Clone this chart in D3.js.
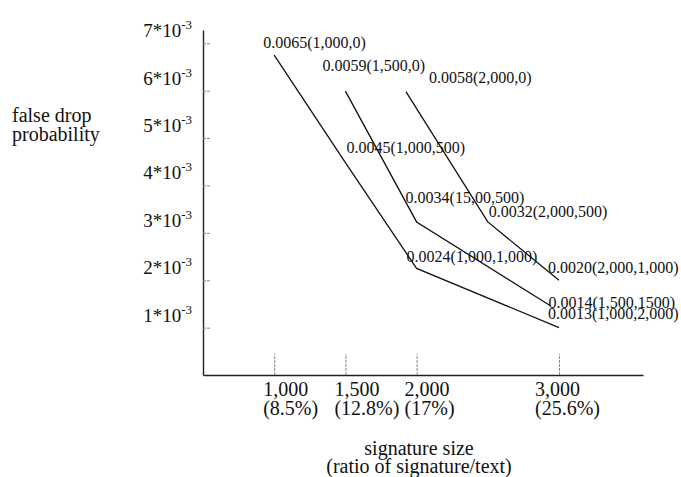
<!DOCTYPE html>
<html>
<head>
<meta charset="utf-8">
<script src="https://cdn.jsdelivr.net/npm/d3@7/dist/d3.min.js"></script>
<style>
  body { margin: 0; background: #fff; }
  svg { font-family: "Liberation Serif", "Times New Roman", serif; }
</style>
</head>
<body>
<svg id="chart"></svg>
<script>
// Axis ticks and labels
let sizeTicks = [1000, 1500, 2000, 3000];
let sizeLabels = ['1,000', '1,500', '2,000', '3,000'];
let ratioLabels = ['(8.5%)', '(12.8%)', '(17%)', '(25.6%)'];
let probTicks = [0.001, 0.002, 0.003, 0.004, 0.005, 0.006, 0.007];
let probLabels = ['1*10', '2*10', '3*10', '4*10', '5*10', '6*10', '7*10'];

// Series: signature size (x) and false drop probability (y)
let sizes1 = [1000, 1500, 2000, 3000];
let probs1 = [0.00675, 0.00448, 0.00225, 0.00100];
let labels1 = ['0.0065(1,000,0)', '0.0045(1,000,500)', '0.0024(1,000,1,000)', '0.0013(1,000,2,000)'];

let sizes2 = [1500, 2000, 2940];
let probs2 = [0.00599, 0.00323, 0.00146];
let labels2 = ['0.0059(1,500,0)', '0.0034(15,00,500)', '0.0014(1,500,1500)'];

let sizes3 = [1925, 2500, 3000];
let probs3 = [0.00598, 0.00323, 0.00200];
let labels3 = ['0.0058(2,000,0)', '0.0032(2,000,500)', '0.0020(2,000,1,000)'];

// Where each point label sits relative to its point (hand placed in the original)
let offsets1 = [[-11, -7], [1, -10], [-10, -6], [-11, -9]];
let offsets2 = [[-23, -20], [-11, -19], [-2, 2]];
let offsets3 = [[23, -9], [1, -5], [-11, -7]];
let xLabelShift = [-11, -11, -12, -24];

// SVG dimensions
let width = 681, height = 477;

let svg = d3.select('#chart')
    .attr('width', width)
    .attr('height', height);

let x = d3.scaleLinear().domain([500, 3590]).range([203, 643]);
let y = d3.scaleLinear().domain([0, 0.00728]).range([375, 30]);

// x axis, ticks pointing up
let xAxis = svg.append('g')
    .attr('transform', 'translate(0,' + y(0) + ')')
    .call(d3.axisBottom(x).tickValues(sizeTicks).tickSizeInner(-21).tickSizeOuter(0).tickFormat(''));

// y axis, short ticks pointing right
let yAxis = svg.append('g')
    .attr('transform', 'translate(' + x(500) + ',0)')
    .call(d3.axisLeft(y).tickValues(probTicks).tickSizeInner(-7).tickSizeOuter(0).tickFormat(''));

svg.selectAll('.domain').attr('stroke', '#222').attr('stroke-width', 1.4);
svg.selectAll('.tick line').attr('stroke', '#888').attr('stroke-dasharray', '3,1');

// y tick labels with superscript exponent
probTicks.forEach((v, i) => {
    let t = svg.append('text')
        .attr('x', x(500) - 11)
        .attr('y', y(v) - 6)
        .attr('text-anchor', 'end')
        .attr('font-size', 19)
        .attr('fill', '#111');
    t.append('tspan').text(probLabels[i]);
    t.append('tspan').attr('font-size', 13).attr('dy', -8).text('-3');
});

// x tick labels, two lines each
sizeTicks.forEach((v, i) => {
    let t = svg.append('text')
        .attr('x', x(v) + xLabelShift[i])
        .attr('y', 396)
        .attr('font-size', 20)
        .attr('fill', '#111');
    t.append('tspan').text(sizeLabels[i]);
    t.append('tspan').attr('x', x(v) + xLabelShift[i]).attr('dy', 19).text(ratioLabels[i]);
});

// axis titles
svg.append('text')
    .attr('x', 12).attr('y', 122)
    .attr('font-size', 20).attr('fill', '#111')
    .call(t => {
        t.append('tspan').text('false drop');
        t.append('tspan').attr('x', 12).attr('dy', 19).text('probability');
    });

svg.append('text')
    .attr('x', 419).attr('y', 455)
    .attr('text-anchor', 'middle')
    .attr('font-size', 20).attr('fill', '#111')
    .call(t => {
        t.append('tspan').text('signature size');
        t.append('tspan').attr('x', 419).attr('dy', 18).text('(ratio of signature/text)');
    });

// Function to draw one series with its point labels
function drawSeries(sizes, probs, labels, offsets) {
    let pts = sizes.map((s, i) => [s, probs[i]]);
    let line = d3.line()
        .x(d => x(d[0]))
        .y(d => y(d[1]));

    svg.append('path')
        .attr('d', line(pts))
        .attr('fill', 'none')
        .attr('stroke', '#111')
        .attr('stroke-width', 1.3);

    svg.selectAll(null)
        .data(pts)
        .enter()
        .append('text')
        .attr('x', (d, i) => x(d[0]) + offsets[i][0])
        .attr('y', (d, i) => y(d[1]) + offsets[i][1])
        .attr('font-size', 16)
        .attr('fill', '#111')
        .text((d, i) => labels[i]);
}

drawSeries(sizes1, probs1, labels1, offsets1);
drawSeries(sizes2, probs2, labels2, offsets2);
drawSeries(sizes3, probs3, labels3, offsets3);
</script>
</body>
</html>
